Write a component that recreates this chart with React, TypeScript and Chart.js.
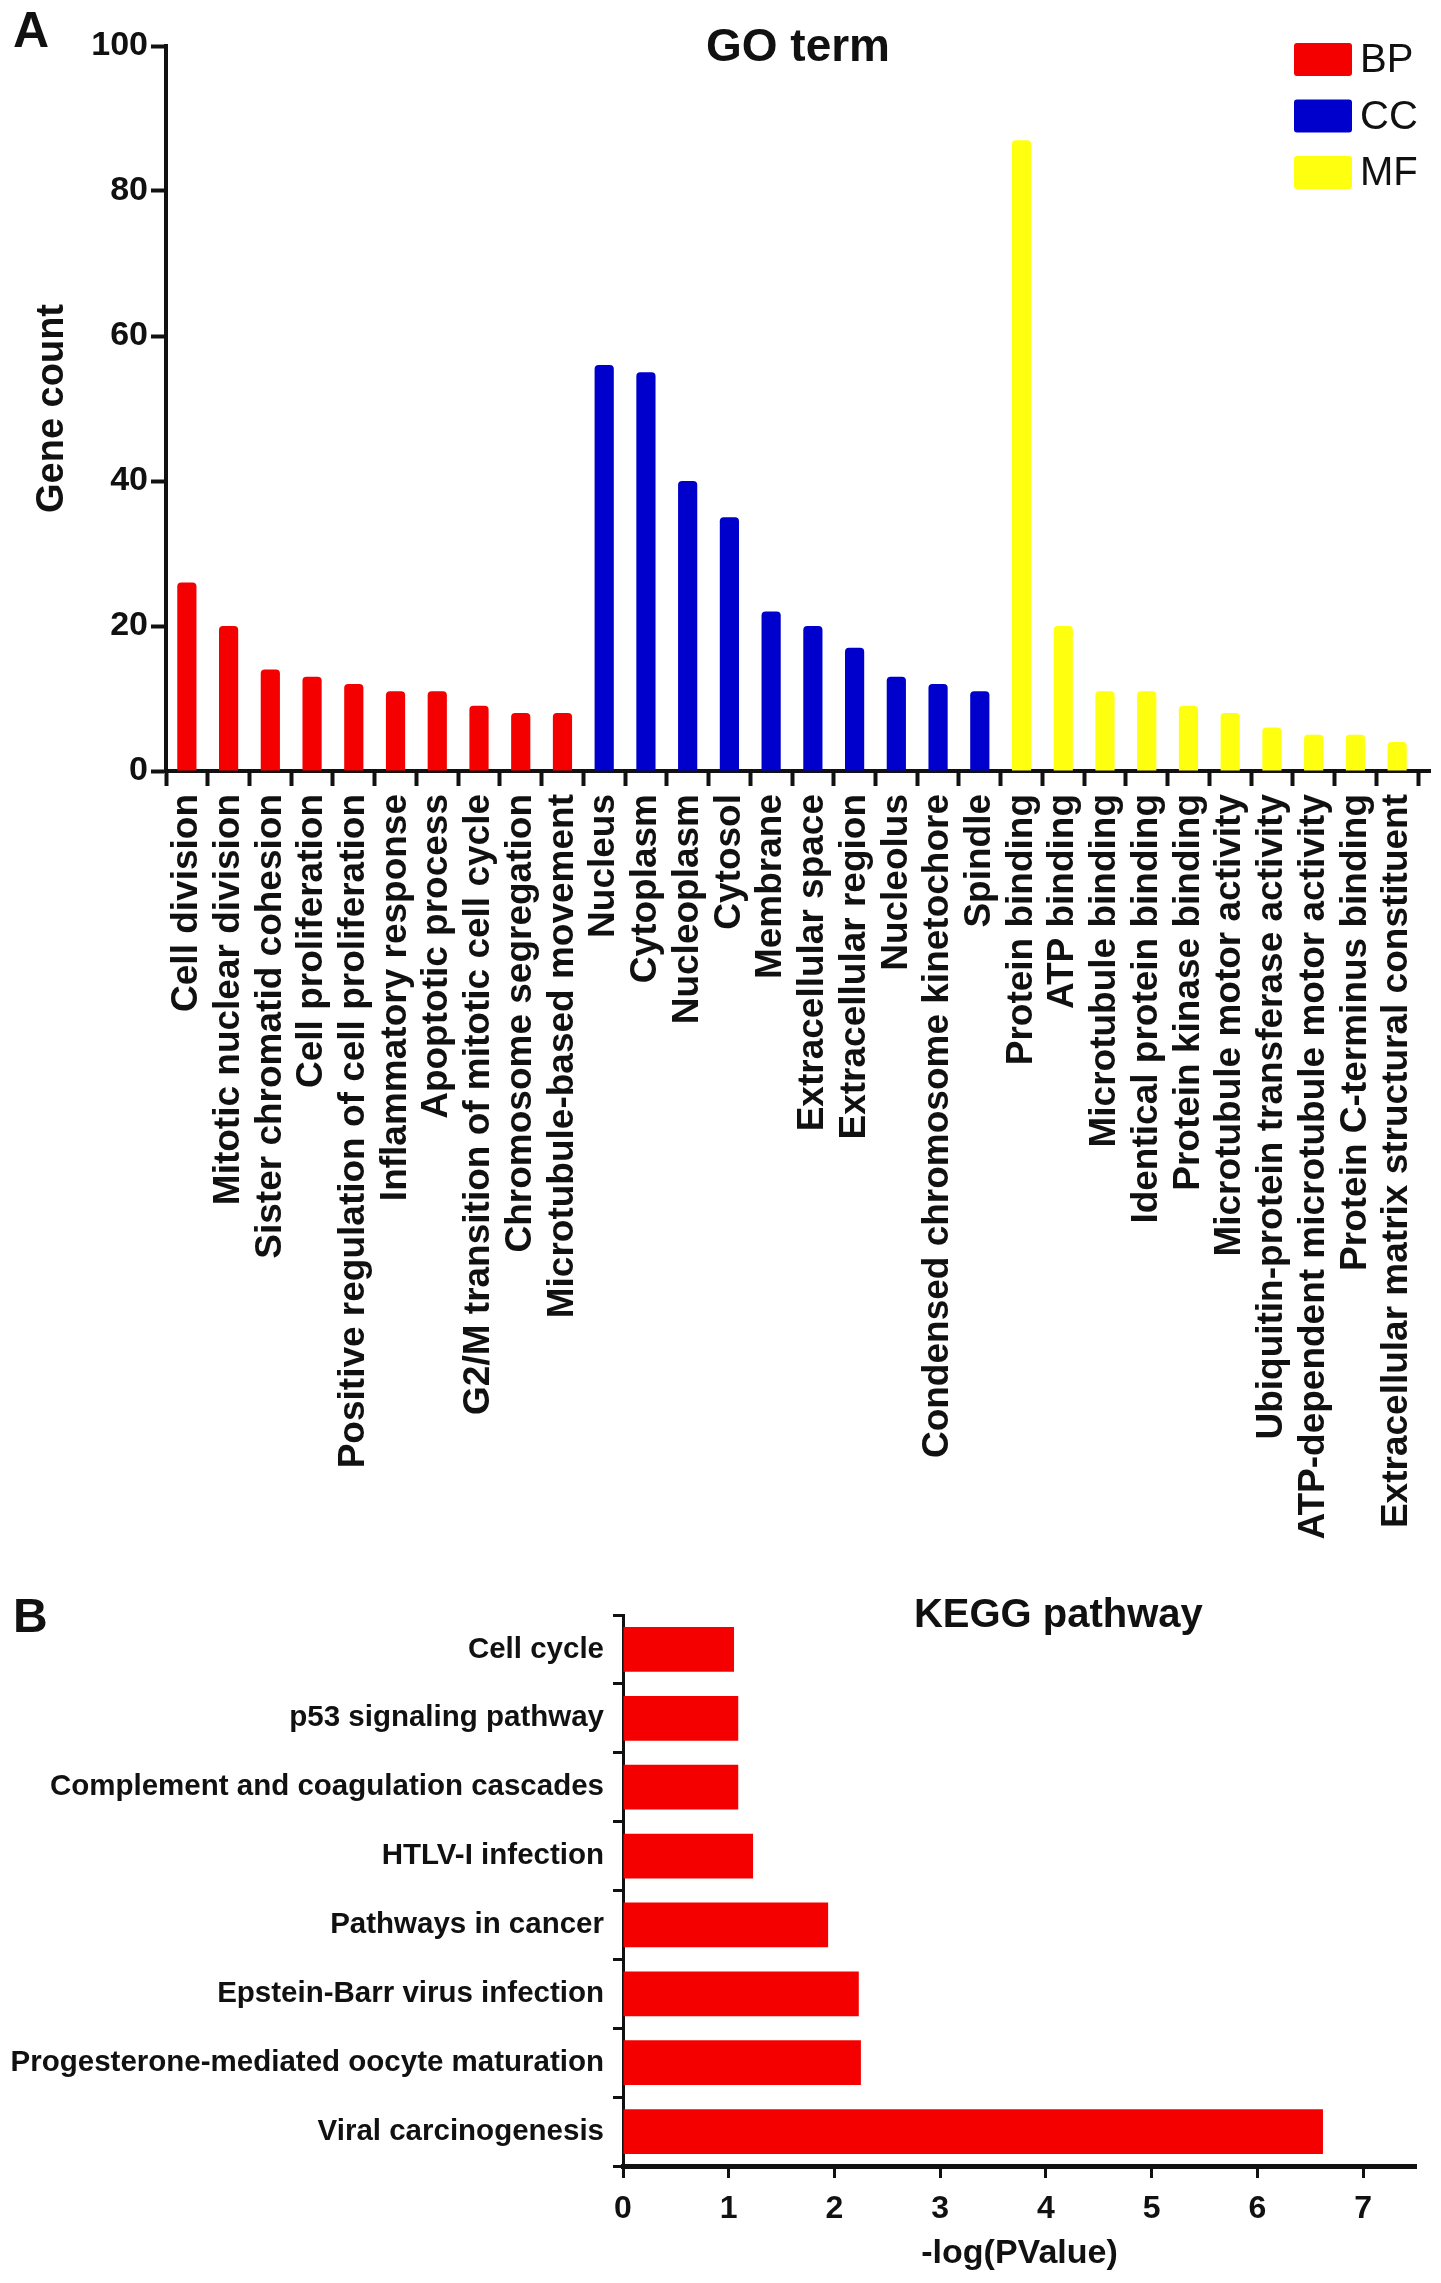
import { useEffect, useRef } from "react"
import { Chart, registerables } from "chart.js"

Chart.register(...registerables)

// GO term (panel A), three groups of ten terms
const bpTerms = [
  "Cell division",
  "Mitotic nuclear division",
  "Sister chromatid cohesion",
  "Cell proliferation",
  "Positive regulation of cell proliferation",
  "Inflammatory response",
  "Apoptotic process",
  "G2/M transition of mitotic cell cycle",
  "Chromosome segregation",
  "Microtubule-based movement",
]
const bpCounts = [26, 20, 14, 13, 12, 11, 11, 9, 8, 8]

const ccTerms = [
  "Nucleus",
  "Cytoplasm",
  "Nucleoplasm",
  "Cytosol",
  "Membrane",
  "Extracellular space",
  "Extracellular region",
  "Nucleolus",
  "Condensed chromosome kinetochore",
  "Spindle",
]
const ccCounts = [56, 55, 40, 35, 22, 20, 17, 13, 12, 11]

const mfTerms = [
  "Protein binding",
  "ATP binding",
  "Microtubule binding",
  "Identical protein binding",
  "Protein kinase binding",
  "Microtubule motor activity",
  "Ubiquitin-protein transferase activity",
  "ATP-dependent microtubule motor activity",
  "Protein C-terminus binding",
  "Extracellular matrix structural constituent",
]
const mfCounts = [87, 20, 11, 11, 9, 8, 6, 5, 5, 4]

const groupNames = ["BP", "CC", "MF"]
const groupColors = ["#f40000", "#0000cc", "#ffff10"]

// KEGG pathway (panel B)
const keggPathways = [
  "Cell cycle",
  "p53 signaling pathway",
  "Complement and coagulation cascades",
  "HTLV-I infection",
  "Pathways in cancer",
  "Epstein-Barr virus infection",
  "Progesterone-mediated oocyte maturation",
  "Viral carcinogenesis",
]
const keggScores = [1.05, 1.09, 1.09, 1.23, 1.94, 2.23, 2.25, 6.62]

const ink = "#111111"
const sans = "'Liberation Sans', Arial, Helvetica, sans-serif"

function GoChart() {
  const canvasRef = useRef<HTMLCanvasElement>(null)

  useEffect(() => {
    if (!canvasRef.current) return
    const groups = [bpTerms, ccTerms, mfTerms]
    const labels = [...bpTerms, ...ccTerms, ...mfTerms]
    const counts = [...bpCounts, ...ccCounts, ...mfCounts]
    const colors = groups.flatMap((terms, g) => terms.map(() => groupColors[g]))

    const overlay = {
      id: "goOverlay",
      afterDraw: (chart: Chart) => {
        const { ctx, chartArea } = chart
        ctx.save()
        // the x axis line runs a little past the last category
        ctx.strokeStyle = ink
        ctx.lineWidth = 4
        ctx.beginPath()
        ctx.moveTo(chartArea.right - 1, chartArea.bottom)
        ctx.lineTo(chartArea.right + 13, chartArea.bottom)
        ctx.stroke()

        ctx.fillStyle = ink
        ctx.font = `bold 50px ${sans}`
        ctx.textAlign = "left"
        ctx.textBaseline = "alphabetic"
        ctx.fillText("A", 13, 47)
        ctx.font = `bold 46px ${sans}`
        ctx.textAlign = "center"
        ctx.textBaseline = "middle"
        ctx.fillText("GO term", (chartArea.left + chartArea.right) / 2 + 6, chartArea.top + 2)
        // legend in the top right corner of the plot
        groupNames.forEach((name, i) => {
          const y = chartArea.top - 3 + i * 56.5
          ctx.fillStyle = groupColors[i]
          ctx.beginPath()
          ctx.roundRect(chartArea.right - 124, y, 58, 33, 3)
          ctx.fill()
          ctx.fillStyle = ink
          ctx.font = `40px ${sans}`
          ctx.textAlign = "left"
          ctx.fillText(name, chartArea.right - 58, y + 18)
        })
        ctx.restore()
      },
    }

    const chart = new Chart(canvasRef.current, {
      type: "bar",
      data: {
        labels,
        datasets: [
          {
            data: counts,
            backgroundColor: colors,
            borderWidth: 0,
            borderRadius: 4,
            categoryPercentage: 1,
            barPercentage: 0.46,
          },
        ],
      },
      options: {
        responsive: false,
        animation: false,
        layout: { padding: { top: 46, right: 23, left: 0, bottom: 0 } },
        plugins: { legend: { display: false }, tooltip: { enabled: false } },
        scales: {
          x: {
            grid: { drawOnChartArea: false, tickLength: 15, tickWidth: 4, tickColor: ink },
            border: { width: 4, color: ink },
            ticks: {
              autoSkip: false,
              minRotation: 90,
              maxRotation: 90,
              padding: 8,
              color: ink,
              font: { family: sans, weight: "bold", size: 37 },
            },
            afterFit: (s: any) => {
              s.height = 789
              s.paddingLeft = 0
              s.paddingRight = 0
            },
          },
          y: {
            min: 0,
            max: 100,
            grid: { drawOnChartArea: false, tickLength: 15, tickWidth: 4, tickColor: ink },
            border: { width: 4, color: ink },
            ticks: {
              stepSize: 20,
              padding: 3,
              color: ink,
              font: { family: sans, weight: "bold", size: 34 },
            },
            title: {
              display: true,
              text: "Gene count",
              color: ink,
              font: { family: sans, weight: "bold", size: 38 },
              padding: { top: 30, bottom: 0 },
            },
            afterFit: (s: any) => {
              s.width = 166
              s.paddingTop = 0
              s.paddingBottom = 0
            },
          },
        },
      },
      plugins: [overlay],
    })

    return () => chart.destroy()
  }, [])

  return <canvas ref={canvasRef} width={1441} height={1560} style={{ display: "block" }} />
}

function KeggChart() {
  const canvasRef = useRef<HTMLCanvasElement>(null)

  useEffect(() => {
    if (!canvasRef.current) return

    const overlay = {
      id: "keggOverlay",
      afterDraw: (chart: Chart) => {
        const { ctx, chartArea } = chart
        ctx.save()
        ctx.fillStyle = ink
        ctx.font = `bold 48px ${sans}`
        ctx.textAlign = "left"
        ctx.textBaseline = "alphabetic"
        ctx.fillText("B", 13, 72)
        ctx.font = `bold 40px ${sans}`
        ctx.textAlign = "center"
        ctx.textBaseline = "middle"
        ctx.fillText("KEGG pathway", chartArea.left + (chartArea.right - chartArea.left) * 0.549, chartArea.top + 1)
        ctx.restore()
      },
    }

    const chart = new Chart(canvasRef.current, {
      type: "bar",
      data: {
        labels: keggPathways,
        datasets: [
          {
            data: keggScores,
            backgroundColor: "#f40000",
            borderWidth: 0,
            categoryPercentage: 1,
            barPercentage: 0.65,
          },
        ],
      },
      options: {
        indexAxis: "y",
        responsive: false,
        animation: false,
        layout: { padding: { top: 55, right: 25, left: 0, bottom: 0 } },
        plugins: { legend: { display: false }, tooltip: { enabled: false } },
        scales: {
          x: {
            min: 0,
            max: 7.5,
            grid: { drawOnChartArea: false, tickLength: 12, tickWidth: 3, tickColor: ink },
            border: { width: 5, color: ink },
            ticks: {
              stepSize: 1,
              includeBounds: false,
              padding: 12,
              color: ink,
              font: { family: sans, weight: "bold", size: 32 },
            },
            title: {
              display: true,
              text: "-log(PValue)",
              color: ink,
              font: { family: sans, weight: "bold", size: 34 },
              padding: { top: 0, bottom: 9 },
            },
            afterFit: (s: any) => {
              s.height = 117
              s.paddingLeft = 0
              s.paddingRight = 0
            },
          },
          y: {
            grid: { drawOnChartArea: false, tickLength: 10, tickWidth: 3, tickColor: ink },
            border: { width: 3, color: ink },
            ticks: {
              autoSkip: false,
              padding: 9,
              color: ink,
              font: { family: sans, weight: "bold", size: 29.5 },
            },
            afterFit: (s: any) => {
              s.width = 623
              s.paddingTop = 0
              s.paddingBottom = 0
            },
          },
        },
      },
      plugins: [overlay],
    })

    return () => chart.destroy()
  }, [])

  return <canvas ref={canvasRef} width={1441} height={723} style={{ display: "block" }} />
}

export default function App() {
  return (
    <div
      style={{
        position: "absolute",
        left: 0,
        top: 0,
        width: 1441,
        height: 2283,
        background: "#ffffff",
        overflow: "hidden",
      }}
    >
      <GoChart />
      <KeggChart />
    </div>
  )
}
